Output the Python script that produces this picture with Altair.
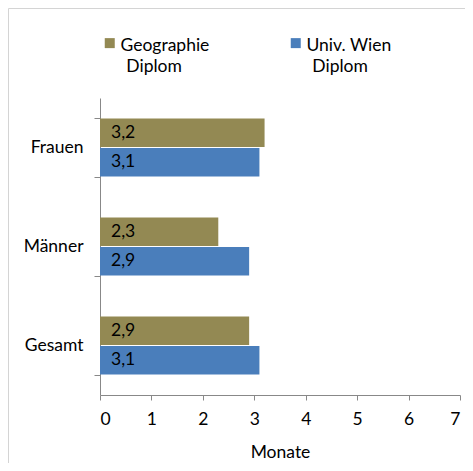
import altair as alt
import pandas as pd

categories = ["Frauen", "Männer", "Gesamt"]
series = ["Geographie\n\u200b\u2004Diplom", "Univ. Wien\n\u200b\u2004Diplom"]
geo_values = [3.2, 2.3, 2.9]
wien_values = [3.1, 2.9, 3.1]
x_ticks = [0, 1, 2, 3, 4, 5, 6, 7]
colors = ["#938953", "#4A7EBB"]

rows = []
for c, g, w in zip(categories, geo_values, wien_values):
    rows.append({"Gruppe": c, "Serie": series[0], "Wert": g})
    rows.append({"Gruppe": c, "Serie": series[1], "Wert": w})
df = pd.DataFrame(rows)

FONT = "Lato"
FS = 17.5

base = alt.Chart(df).transform_calculate(
    lab="replace(format(datum.Wert, '.1f'), '.', ',')"
)

y_enc = alt.Y(
    "Gruppe:N",
    sort=categories,
    scale=alt.Scale(paddingInner=0.4, paddingOuter=0.2),
    axis=alt.Axis(
        title=None, tickBand="extent", tickSize=6, labelPadding=11,
        labelFontSize=FS, labelFont=FONT, labelColor="#000000",
        domainColor="#888888", tickColor="#888888", grid=False,
    ),
)
yoff = alt.YOffset("Serie:N", sort=series, scale=alt.Scale(paddingInner=0, paddingOuter=0))

bars = base.mark_bar(size=28.5).encode(
    x=alt.X(
        "Wert:Q",
        scale=alt.Scale(domain=[0, 7], nice=False),
        axis=alt.Axis(
            title="Monate", values=x_ticks, tickSize=5, labelPadding=10,
            labelFontSize=FS, labelFont=FONT, labelColor="#000000",
            titleFontSize=FS, titleFont=FONT, titleFontWeight="normal",
            titleColor="#000000", titlePadding=16,
            domainColor="#888888", tickColor="#888888", grid=False,
        ),
    ),
    y=y_enc,
    yOffset=yoff,
    color=alt.Color(
        "Serie:N", sort=series,
        scale=alt.Scale(domain=series, range=colors),
        legend=alt.Legend(
            title=None, orient="none", legendX=1, legendY=-61,
            direction="horizontal", symbolType="M-1,-1.6H1V0.4H-1Z", symbolSize=100,
            symbolStrokeWidth=0, labelFontSize=FS, labelFont=FONT,
            labelColor="#000000", labelOffset=2, columnPadding=77,
            labelExpr="split(datum.label, '\\n')", labelBaseline="middle",
            labelLimit=220,
        ),
    ),
)

labels = base.mark_text(align="left", baseline="middle", dx=11, fontSize=FS, font=FONT, color="#000000").encode(
    x=alt.datum(0),
    y=y_enc,
    yOffset=yoff,
    text="lab:N",
)

frame = alt.Chart(pd.DataFrame({"a": [0]})).mark_rect(
    fill=None, stroke="#d4d4d4", strokeWidth=1
).encode(
    x=alt.value(-91.5), y=alt.value(-89.5), x2=alt.value(600), y2=alt.value(600)
)

chart = alt.layer(frame, bars, labels).properties(
    width=360, height=297,
    autosize=alt.AutoSizeParams(type="none"),
    padding={"left": 92, "top": 90, "right": 5, "bottom": 68},
).configure(
    style={"guide-label": {"lineHeight": 21}},
    view=alt.ViewConfig(stroke="transparent"),
)

chart.save("out.html", embed_options={"renderer": "svg", "actions": False})
